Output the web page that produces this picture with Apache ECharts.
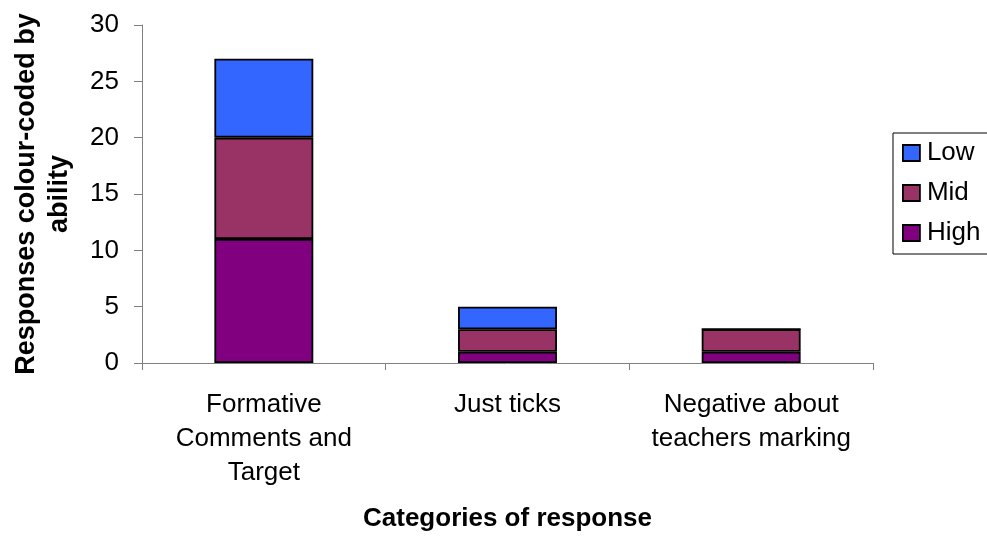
<!DOCTYPE html>
<html>
<head>
<meta charset="utf-8">
<script src="https://cdn.jsdelivr.net/npm/echarts@6/dist/echarts.min.js"></script>
<style>html,body{margin:0;padding:0;background:#fff}#c{width:987px;height:538px}</style>
</head>
<body>
<div id="c"></div>
<script>
const categories = ['Formative\nComments and\nTarget', 'Just ticks', 'Negative about\nteachers marking'];
const highValues = [11, 1, 1];
const midValues = [9, 2, 2];
const lowValues = [7, 2, 0];
const yTicks = { min: 0, max: 30, interval: 5 };
const FONT = '"Liberation Sans", Arial, sans-serif';
const FS = 26;

const chart = echarts.init(document.getElementById('c'), null, { renderer: 'canvas' });
const barStyle = (color) => ({ color: color, borderColor: '#000', borderWidth: 1.8 });
chart.setOption({
  animation: false,
  textStyle: { fontFamily: FONT },
  grid: { left: 142, right: 114, top: 25, bottom: 175, containLabel: false },
  legend: {
    orient: 'vertical',
    left: 893, top: 133,
    data: ['Low', 'Mid', 'High'],
    borderColor: '#000', borderWidth: 1,
    padding: [7, 30, 8, 9],
    itemWidth: 17, itemHeight: 16, itemGap: 14,
    icon: 'rect',
    itemStyle: { borderColor: '#000', borderWidth: 1.8 },
    textStyle: { fontSize: FS, color: '#000', fontFamily: FONT, lineHeight: 26, padding: [0, 0, 0, 2] }
  },
  xAxis: {
    type: 'category',
    data: categories,
    name: 'Categories of response',
    nameLocation: 'middle',
    nameGap: 143,
    nameTextStyle: { fontSize: FS, fontWeight: 'bold', color: '#000', fontFamily: FONT, lineHeight: 26, verticalAlign: 'top' },
    axisLine: { lineStyle: { color: '#808080', width: 1 } },
    axisTick: { show: true, length: 7, lineStyle: { color: '#808080' } },
    axisLabel: { fontSize: FS, color: '#000', lineHeight: 34, margin: 25, fontFamily: FONT, interval: 0 }
  },
  yAxis: {
    type: 'value',
    min: yTicks.min, max: yTicks.max, interval: yTicks.interval,
    name: 'Responses colour-coded by\nability',
    nameLocation: 'middle',
    nameGap: 66,
    nameRotate: 90,
    nameTextStyle: { fontSize: 27, fontWeight: 'bold', color: '#000', fontFamily: FONT, lineHeight: 33, align: 'center', verticalAlign: 'bottom' },
    axisLine: { show: true, lineStyle: { color: '#808080', width: 1 } },
    axisTick: { show: true, length: 8, lineStyle: { color: '#808080' } },
    axisLabel: { fontSize: FS, color: '#000', margin: 23, fontFamily: FONT },
    splitLine: { show: false }
  },
  series: [
    { name: 'High', type: 'bar', stack: 's', data: highValues, barWidth: '40.6%', itemStyle: barStyle('#800080') },
    { name: 'Mid', type: 'bar', stack: 's', data: midValues, itemStyle: barStyle('#993366') },
    { name: 'Low', type: 'bar', stack: 's', data: lowValues, itemStyle: barStyle('#3366FF') }
  ]
});
</script>
</body>
</html>
